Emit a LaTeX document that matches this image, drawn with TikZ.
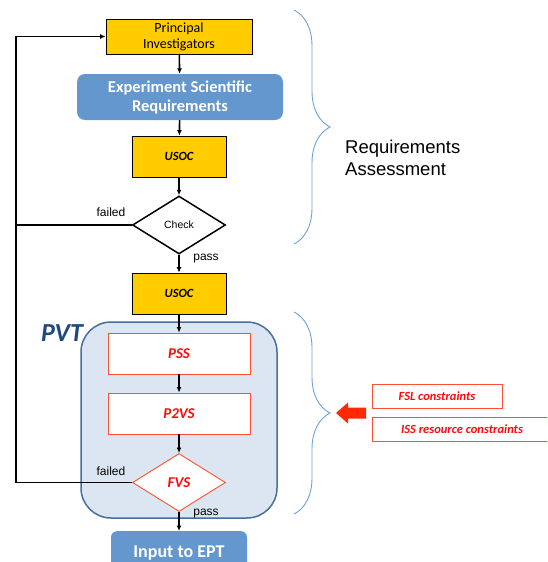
\documentclass[tikz,border=0pt]{standalone}
\usepackage{fontspec}
\setmainfont{Carlito}
\newfontfamily\arialfont{Liberation Sans}
\usepackage{tikz}
\usetikzlibrary{shapes, arrows.meta, positioning, decorations.pathreplacing, calc}
\definecolor{usocgold}{RGB}{255, 204, 0}
\definecolor{reqblue}{RGB}{99, 151, 205}
\definecolor{pvtfill}{RGB}{220, 230, 242}
\definecolor{pvtline}{RGB}{70, 110, 160}
\definecolor{pvtdark}{RGB}{31, 73, 125}
\definecolor{bracecol}{RGB}{110, 160, 215}
\definecolor{checkred}{RGB}{255, 10, 10}
\definecolor{arrowred}{RGB}{255, 40, 0}
\definecolor{boxred}{RGB}{255, 80, 50}

\tikzset{
    goldbox/.style={draw=black, line width=0.8pt, fill=usocgold, align=center, inner sep=0pt},
    bluebox/.style={fill=reqblue, rounded corners=8pt, text=white, align=center, inner sep=0pt, font=\fontsize{16.5}{19}\selectfont\bfseries},
    redbox/.style={draw=boxred, line width=0.9pt, fill=white, text=checkred, inner sep=0pt, font=\fontsize{15}{17}\selectfont\bfseries\itshape},
    decision/.style={diamond, aspect=1.6, inner sep=0pt, minimum width=93pt, minimum height=58pt},
    lbl/.style={font=\arialfont\fontsize{12}{13}\selectfont, inner sep=0pt},
    flow/.style={->, line width=1.6pt}
}

\begin{document}
\begin{tikzpicture}[x=1pt, y=-1pt, >={Latex[length=5.5pt, width=5pt]}]
    \clip (0,0) rectangle (547,562);

    % 1. PVT CONTAINER (drawn first, boxes sit on top)
    \node[draw=pvtline, line width=1.5pt, fill=pvtfill, rounded corners=30pt,
          minimum width=196pt, minimum height=196pt] (pvt) at (179,420) {};
    \node[text=pvtdark, font=\fontsize{26}{28}\selectfont\bfseries\itshape, inner sep=0pt] (pvtlbl) at (62,333) {PVT};

    % 2. FLOW BOXES
    \node[goldbox, minimum width=146pt, minimum height=35pt, font=\fontsize{14}{16}\selectfont] (pi) at (179,36.5) {Principal\\Investigators};
    \node[bluebox, minimum width=206pt, minimum height=46pt] (esr) at (180,97) {Experiment Scientific\\Requirements};
    \node[goldbox, minimum width=94pt, minimum height=41pt, font=\fontsize{12.5}{14}\selectfont\bfseries\itshape] (usoca) at (179,156.5) {USOC};
    \node[decision, draw=black, line width=1.5pt, fill=white, font=\arialfont\fontsize{10.5}{12}\selectfont] (check) at (179,225) {Check};
    \node[goldbox, minimum width=94pt, minimum height=41pt, font=\fontsize{12.5}{14}\selectfont\bfseries\itshape] (usocb) at (179,293.5) {USOC};
    \node[redbox, minimum width=142pt, minimum height=41pt] (pss) at (179,353.5) {PSS};
    \node[redbox, minimum width=142pt, minimum height=41pt] (ptvs) at (179,413.5) {P2VS};
    \node[decision, draw=boxred, line width=0.9pt, fill=white, text=checkred, font=\fontsize{15}{17}\selectfont\bfseries\itshape] (fvs) at (179,482.5) {FVS};
    \node[bluebox, rounded corners=6pt, minimum width=136pt, minimum height=44pt, anchor=north, font=\fontsize{18}{20}\selectfont\bfseries] (ept) at (179,531) {Input to EPT};

    % 3. CONNECTORS
    \draw[flow] (pi) -- (esr);
    \draw[flow] (esr) -- (usoca);
    \draw[flow] (usoca) -- (check);
    \draw[flow] (check) -- (usocb);
    \draw[flow] (usocb) -- (pss);
    \draw[flow] (pss) -- (ptvs);
    \draw[flow] (ptvs) -- (fvs);
    \draw[flow] (fvs) -- (ept);

    % feedback loop
    \coordinate (loop) at (16,482.5);
    \draw[flow, line width=1.8pt] (fvs.west) -- (loop) |- (pi.west);
    \draw[line width=1.8pt] (check.west) -- (check.west -| loop);

    \node[lbl] (chkfail) at (111,212) {failed};
    \node[lbl] (chkpass) at (206,259) {pass};
    \node[lbl] (fvsfail) at (111,471) {failed};
    \node[lbl] (fvspass) at (206,514) {pass};

    % 4. BRACES AND CONSTRAINTS
    \draw[bracecol, line width=0.9pt, decorate, decoration={brace, amplitude=36pt}] (294,10) -- (294,244);
    \draw[bracecol, line width=0.9pt, decorate, decoration={brace, amplitude=36pt}] (294,312) -- (294,514);
    \node[anchor=west, align=left, inner sep=0pt, font=\arialfont\fontsize{18.5}{22}\selectfont] (reqassess) at (345,158) {Requirements\\Assessment};

    \fill[arrowred] (366,407.5) -- (348,407.5) -- (348,402.5) -- (336,413) -- (348,423.5) -- (348,418.5) -- (366,418.5) -- cycle;
    \node[redbox, minimum width=130pt, minimum height=24pt, font=\fontsize{12.5}{14}\selectfont\bfseries\itshape] (fsl) at (437,396) {FSL constraints};
    \node[redbox, minimum width=180pt, minimum height=24pt, font=\fontsize{12.5}{14}\selectfont\bfseries\itshape] (iss) at (462,429) {ISS resource constraints};
\end{tikzpicture}
\end{document}
